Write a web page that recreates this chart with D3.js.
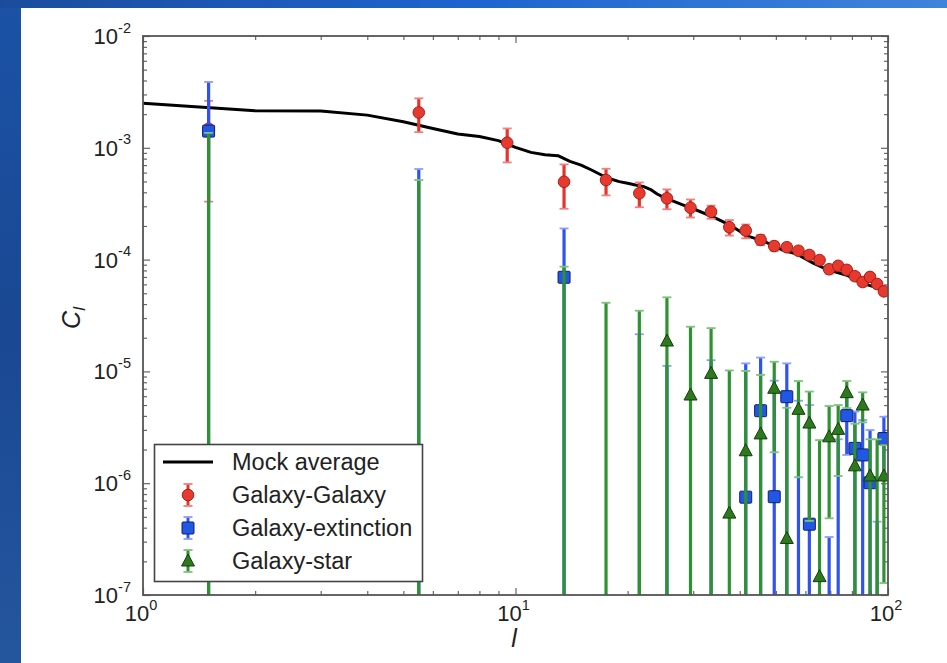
<!DOCTYPE html>
<html>
<head>
<meta charset="utf-8">
<script src="https://cdn.jsdelivr.net/npm/d3@7"></script>
<style>
  html, body { margin: 0; padding: 0; background: #fff; }
  svg { display: block; }
  text { font-family: "Liberation Sans", Arial, sans-serif; }
</style>
</head>
<body>
<script>
// Multipole bins (bin centres)
const ells = [1.5, 5.5, 9.5, 13.5, 17.5, 21.5, 25.5, 29.5, 33.5, 37.5, 41.5, 45.5, 49.5,
              53.5, 57.5, 61.5, 65.5, 69.5, 73.5, 77.5, 81.5, 85.5, 89.5, 93.5, 97.5];

// Galaxy-Galaxy: value, lower and upper end of error bar
const ggVal = [1.48e-3, 2.07e-3, 1.11e-3, 4.97e-4, 5.15e-4, 3.92e-4, 3.53e-4, 2.91e-4, 2.68e-4, 1.95e-4,
               1.82e-4, 1.50e-4, 1.32e-4, 1.29e-4, 1.20e-4, 1.10e-4, 9.9e-5, 8.2e-5, 8.8e-5, 8.1e-5,
               7.1e-5, 6.3e-5, 7.0e-5, 6.05e-5, 5.2e-5];
const ggLo  = [3.3e-4, 1.38e-3, 7.4e-4, 2.85e-4, 3.75e-4, 2.94e-4, 2.82e-4, 2.38e-4, 2.32e-4, 1.64e-4,
               1.55e-4, 1.35e-4, 1.2e-4, 1.19e-4, 1.11e-4, 1.02e-4, 9.2e-5, 7.5e-5, 8.2e-5, 7.6e-5,
               6.6e-5, 5.9e-5, 6.6e-5, 5.65e-5, 4.8e-5];
const ggHi  = [2.63e-3, 2.77e-3, 1.49e-3, 7.1e-4, 6.5e-4, 4.9e-4, 4.25e-4, 3.45e-4, 3.04e-4, 2.26e-4,
               2.06e-4, 1.66e-4, 1.45e-4, 1.39e-4, 1.29e-4, 1.18e-4, 1.06e-4, 8.9e-5, 9.4e-5, 8.6e-5,
               7.6e-5, 6.7e-5, 7.4e-5, 6.45e-5, 5.6e-5];

// Galaxy-extinction (null value = negative, no marker; null lower = bar runs off the axis)
const geVal = [1.41e-3, null, null, 6.95e-5, null, null, null, null, null, null,
               7.5e-7, 4.45e-6, 7.57e-7, 5.94e-6, null, 4.3e-7, null, null, null, 4.02e-6,
               2.05e-6, 1.79e-6, 1.01e-6, null, 2.51e-6];
const geLo  = [null, null, null, null, null, null, null, null, null, null,
               null, null, null, null, null, null, null, null, null, 1.79e-6,
               null, null, null, null, 1.09e-6];
const geHi  = [3.88e-3, 6.46e-4, null, 1.9e-4, null, 2.15e-5, 1.12e-5, null, 1.26e-5, null,
               1.18e-5, 1.33e-5, 8.26e-6, 1.18e-5, 5.47e-6, 5.0e-6, null, 3.3e-7, 2.47e-6, 6.25e-6,
               4.37e-6, 3.67e-6, 2.99e-6, 4.53e-7, 3.93e-6];

// Galaxy-star
const gsVal = [null, null, null, null, null, null, 1.87e-5, 6.15e-6, 9.6e-6, 5.4e-7,
               1.95e-6, 2.76e-6, 7.06e-6, 3.2e-7, 4.58e-6, 3.45e-6, 1.46e-7, 2.6e-6, 3.03e-6, 6.45e-6,
               1.43e-6, 5.0e-6, 1.16e-6, null, 1.16e-6];
const gsLo  = [null, null, null, null, null, null, null, null, null, null,
               null, null, 1.89e-6, null, 1.13e-6, 4.6e-7, null, 4.85e-7, 1.16e-6, 4.7e-6,
               null, 3.5e-6, null, null, 1.28e-7];
const gsHi  = [1.36e-3, 5.15e-4, null, 8.65e-5, 4.11e-5, 3.49e-5, 4.6e-5, 2.51e-5, 2.44e-5, 1.02e-5,
               1.01e-5, 9.3e-6, 1.22e-5, 4.73e-6, 8.2e-6, 6.6e-6, 2.43e-6, 4.9e-6, 5.0e-6, 8.2e-6,
               3.4e-6, 6.5e-6, 2.47e-6, 2.47e-6, 2.19e-6];

// Mock average curve
const mockL = [1, 2, 3, 4, 5, 6, 7, 8, 9, 10, 11, 12, 13, 14, 15, 16, 17, 18, 19, 20, 21, 22, 23, 24, 25,
               28, 30, 34, 38, 42, 46, 52, 57, 63, 69, 78, 86, 95, 100];
const mockC = [2.50e-3, 2.15e-3, 2.13e-3, 1.96e-3, 1.71e-3, 1.49e-3, 1.33e-3, 1.26e-3, 1.16e-3, 1.01e-3,
               9.1e-4, 8.67e-4, 8.5e-4, 7.57e-4, 7.0e-4, 6.33e-4, 5.71e-4, 5.26e-4, 4.98e-4, 4.81e-4,
               4.65e-4, 4.52e-4, 4.25e-4, 3.86e-4, 3.6e-4, 3.1e-4, 2.85e-4, 2.4e-4, 2.0e-4, 1.62e-4,
               1.48e-4, 1.22e-4, 1.12e-4, 9.3e-5, 8.1e-5, 7.2e-5, 6.1e-5, 5.5e-5, 5.0e-5];

// Tick decades
const xTickExp = [0, 1, 2];
const yTickExp = [-2, -3, -4, -5, -6, -7];

const legendLabels = ["Mock average", "Galaxy-Galaxy", "Galaxy-extinction", "Galaxy-star"];

const W = 947, H = 663;
const pL = 143, pR = 888, pT = 36, pB = 595;

const svg = d3.select("body").append("svg").attr("width", W).attr("height", H);
const defs = svg.append("defs");

// Slide frame gradients
const gTop = defs.append("linearGradient").attr("id", "gTop").attr("x1", 0).attr("x2", 1).attr("y1", 0).attr("y2", 0);
gTop.append("stop").attr("offset", 0).attr("stop-color", "#1b4c9c");
gTop.append("stop").attr("offset", 0.5).attr("stop-color", "#1e64cf");
gTop.append("stop").attr("offset", 1).attr("stop-color", "#3f84da");
const gLeft = defs.append("linearGradient").attr("id", "gLeft").attr("x1", 0).attr("x2", 0).attr("y1", 0).attr("y2", 1);
gLeft.append("stop").attr("offset", 0).attr("stop-color", "#1b52a6");
gLeft.append("stop").attr("offset", 0.5).attr("stop-color", "#1a4892");
gLeft.append("stop").attr("offset", 1).attr("stop-color", "#24569e");

svg.append("rect").attr("x", 0).attr("y", 0).attr("width", W).attr("height", H).attr("fill", "#fff");
svg.append("rect").attr("x", 0).attr("y", 0).attr("width", 21).attr("height", H).attr("fill", "url(#gLeft)");
svg.append("rect").attr("x", 0).attr("y", 0).attr("width", W).attr("height", 8).attr("fill", "url(#gTop)");

defs.append("clipPath").attr("id", "plotClip")
  .append("rect").attr("x", pL).attr("y", pT).attr("width", pR - pL).attr("height", pB - pT);

const x = d3.scaleLog().domain([1, 100]).range([pL, pR]);
const y = d3.scaleLog().domain([1e-7, 1e-2]).range([pB, pT]);

// Minor tick positions
const xMinor = [], yMinor = [];
for (let e = 0; e < 2; e++) for (let m = 2; m <= 9; m++) xMinor.push(m * Math.pow(10, e));
for (let e = -7; e < -2; e++) for (let m = 2; m <= 9; m++) yMinor.push(m * Math.pow(10, e));
const xMajor = xTickExp.map(e => Math.pow(10, e));
const yMajor = yTickExp.map(e => Math.pow(10, e));

function tickAxis(axisFn, scale, values, size, tx, ty) {
  const g = svg.append("g").attr("transform", `translate(${tx},${ty})`)
    .call(axisFn(scale).tickValues(values).tickSize(size).tickFormat(""));
  g.select(".domain").remove();
  g.selectAll(".tick line").attr("stroke", "#666").attr("stroke-width", 1.2);
  return g;
}
// Ticks point inward on all four sides
tickAxis(d3.axisBottom, x, xMajor, -7, 0, pB);
tickAxis(d3.axisBottom, x, xMinor, -4, 0, pB);
tickAxis(d3.axisTop, x, xMajor, -7, 0, pT);
tickAxis(d3.axisTop, x, xMinor, -4, 0, pT);
tickAxis(d3.axisLeft, y, yMajor, -7, pL, 0);
tickAxis(d3.axisLeft, y, yMinor, -4, pL, 0);
tickAxis(d3.axisRight, y, yMajor, -7, pR, 0);
tickAxis(d3.axisRight, y, yMinor, -4, pR, 0);

// Tick labels with superscript exponents
const fs = 22, fsSup = 14.5;
svg.append("g").selectAll("text").data(yTickExp).join("text")
  .attr("x", pL - 12).attr("y", d => y(Math.pow(10, d)) + 8)
  .attr("text-anchor", "end").attr("font-size", fs).attr("fill", "#222")
  .each(function (d) {
    const t = d3.select(this);
    t.append("tspan").text("10");
    t.append("tspan").attr("font-size", fsSup).attr("dy", -11.5).text(String(d));
  });
svg.append("g").selectAll("text").data(xTickExp).join("text")
  .attr("x", d => x(Math.pow(10, d)) - 2).attr("y", pB + 26)
  .attr("text-anchor", "middle").attr("font-size", fs).attr("fill", "#222")
  .each(function (d) {
    const t = d3.select(this);
    t.append("tspan").text("10");
    t.append("tspan").attr("font-size", fsSup).attr("dy", -11.5).text(String(d));
  });

// Axis titles
svg.append("text").attr("x", 514).attr("y", 647).attr("text-anchor", "middle")
  .attr("font-size", 25).attr("font-style", "italic").attr("fill", "#222").text("l");
const yl = svg.append("text").attr("transform", "translate(80,318) rotate(-90)")
  .attr("text-anchor", "middle").attr("font-size", 25).attr("font-style", "italic").attr("fill", "#222");
yl.append("tspan").text("C");
yl.append("tspan").attr("font-size", 17).attr("dy", 5).text("l");

const plot = svg.append("g").attr("clip-path", "url(#plotClip)");

// Mock average line
const line = d3.line().x((d, i) => x(mockL[i])).y(d => y(d));
plot.append("path").datum(mockC).attr("d", line)
  .attr("fill", "none").attr("stroke", "#000").attr("stroke-width", 3).attr("stroke-linejoin", "round");

const series = [
  { val: ggVal, lo: ggLo, hi: ggHi, bar: "#e8332b", cap: "#f08080", fill: "#e8392e", edge: "#a32018", shape: "circle" },
  { val: geVal, lo: geLo, hi: geHi, bar: "#2f52f2", cap: "#8aa0f8", fill: "#2257e6", edge: "#10206a", shape: "square" },
  { val: gsVal, lo: gsLo, hi: gsHi, bar: "#2f9230", cap: "#7cc47a", fill: "#2c7a1c", edge: "#163d0e", shape: "triangle" }
];

const capW = 4.5;
function drawMarker(g, sr, cx, cy) {
  let m;
  if (sr.shape === "circle") {
    m = g.append("circle").attr("cx", cx).attr("cy", cy).attr("r", 5.8);
  } else if (sr.shape === "square") {
    m = g.append("rect").attr("x", cx - 6).attr("y", cy - 6).attr("width", 12).attr("height", 12).attr("rx", 1);
  } else {
    m = g.append("path").attr("d", `M${cx},${cy - 7}L${cx + 6.5},${cy + 5}L${cx - 6.5},${cy + 5}Z`);
  }
  m.attr("fill", sr.fill).attr("stroke", sr.edge).attr("stroke-width", 1);
}

series.forEach(sr => {
  const g = plot.append("g");
  ells.forEach((l, i) => {
    const hi = sr.hi[i];
    if (hi == null) return;
    const cx = x(l);
    const yHi = y(hi);
    const yLo = sr.lo[i] != null ? y(sr.lo[i]) : pB + 20;
    g.append("line").attr("x1", cx).attr("x2", cx).attr("y1", yHi).attr("y2", yLo)
      .attr("stroke", sr.bar).attr("stroke-width", 3.2);
    g.append("line").attr("x1", cx - capW).attr("x2", cx + capW).attr("y1", yHi).attr("y2", yHi)
      .attr("stroke", sr.cap).attr("stroke-width", 1.8);
    if (sr.lo[i] != null) {
      g.append("line").attr("x1", cx - capW).attr("x2", cx + capW).attr("y1", yLo).attr("y2", yLo)
        .attr("stroke", sr.cap).attr("stroke-width", 1.8);
    }
  });
  ells.forEach((l, i) => {
    if (sr.val[i] == null) return;
    drawMarker(g, sr, x(l), y(sr.val[i]));
  });
});

// Frame
svg.append("rect").attr("x", pL).attr("y", pT).attr("width", pR - pL).attr("height", pB - pT)
  .attr("fill", "none").attr("stroke", "#555").attr("stroke-width", 1.8);

// Legend
const lg = svg.append("g");
lg.append("rect").attr("x", 154.5).attr("y", 444.5).attr("width", 268).attr("height", 137)
  .attr("fill", "#fff").attr("stroke", "#444").attr("stroke-width", 1.6);
const rowY = [462, 495, 528, 561];
lg.append("line").attr("x1", 163).attr("x2", 213).attr("y1", rowY[0]).attr("y2", rowY[0])
  .attr("stroke", "#000").attr("stroke-width", 3);
series.forEach((sr, k) => {
  const cy = rowY[k + 1], cx = 188;
  lg.append("line").attr("x1", cx).attr("x2", cx).attr("y1", cy - 11).attr("y2", cy + 11)
    .attr("stroke", sr.bar).attr("stroke-width", 3);
  [cy - 11, cy + 11].forEach(yy => lg.append("line").attr("x1", cx - capW).attr("x2", cx + capW)
    .attr("y1", yy).attr("y2", yy).attr("stroke", sr.cap).attr("stroke-width", 1.8));
  drawMarker(lg, sr, cx, cy);
});
lg.selectAll("text.lab").data(legendLabels).join("text").attr("class", "lab")
  .attr("x", 232).attr("y", (d, i) => rowY[i] + 8).attr("font-size", 23.5).attr("fill", "#222")
  .text(d => d);
</script>
</body>
</html>
